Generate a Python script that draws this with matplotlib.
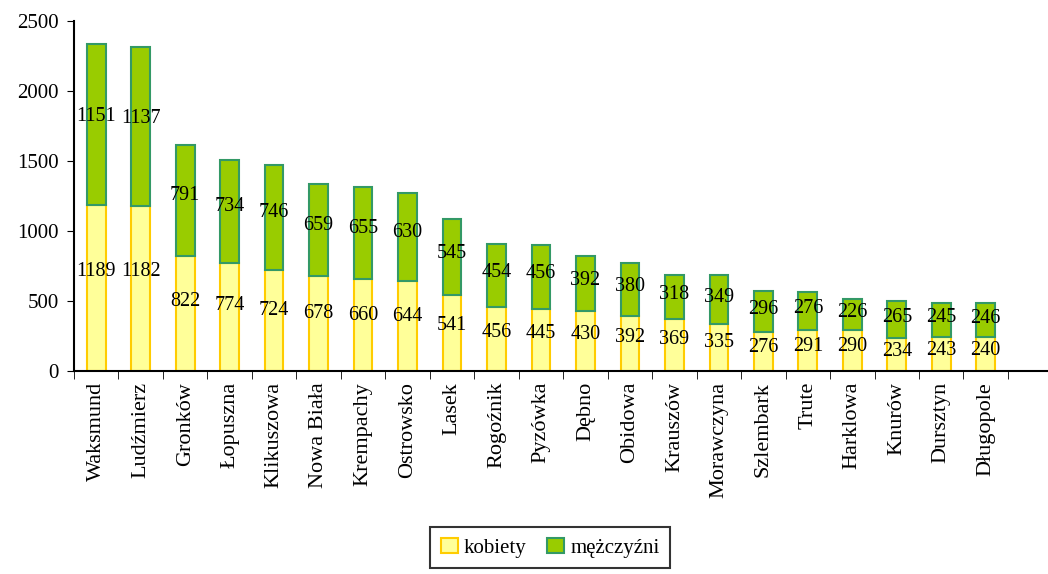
import numpy as np
import matplotlib.pyplot as plt
from matplotlib.ticker import FixedLocator

plt.rcParams['font.family'] = ['Liberation Serif', 'DejaVu Serif']

# wsie
villages = ['Waksmund', 'Ludźmierz', 'Gronków', 'Łopuszna', 'Klikuszowa',
            'Nowa Biała', 'Krempachy', 'Ostrowsko', 'Lasek', 'Rogoźnik',
            'Pyzówka', 'Dębno', 'Obidowa', 'Krauszów', 'Morawczyna',
            'Szlembark', 'Trute', 'Harklowa', 'Knurów', 'Dursztyn', 'Długopole']
kobiety = [1189, 1182, 822, 774, 724, 678, 660, 644, 541, 456,
           445, 430, 392, 369, 335, 276, 291, 290, 234, 243, 240]
mezczyzni = [1151, 1137, 791, 734, 746, 659, 655, 630, 545, 454,
             456, 392, 380, 318, 349, 296, 276, 226, 265, 245, 246]

k = np.array(kobiety)
m = np.array(mezczyzni)
x = np.arange(len(villages))

fig = plt.figure(figsize=(10.48, 5.74), dpi=100)
ax = fig.add_axes([0.0706, 0.354, 0.9294, 0.609])

w = 0.42
ax.bar(x, k, w, color='#FFFF99', edgecolor='#FFCC00', linewidth=1.5, label='kobiety')
ax.bar(x, m, w, bottom=k, color='#99CC00', edgecolor='#339966', linewidth=1.5,
       label='mężczyźni')

for i in range(len(x)):
    ax.text(x[i], k[i] * 0.6, str(k[i]), ha='center', va='center', fontsize=14.5)
    ax.text(x[i], k[i] + m[i] * 0.55, str(m[i]), ha='center', va='center', fontsize=14.5)

ax.set_xlim(-0.5, 21.4)
ax.set_ylim(0, 2500)
ax.set_yticks(range(0, 2501, 500))
ax.tick_params(axis='y', labelsize=15, direction='out', length=5, pad=6)

ax.set_xticks(x)
ax.set_xticklabels(villages, rotation=90, fontsize=16)
ax.tick_params(axis='x', which='major', length=0, pad=8)
ax.xaxis.set_minor_locator(FixedLocator(np.arange(-0.5, 21.6, 1)))
ax.tick_params(axis='x', which='minor', length=6, direction='out')

for s in ['left', 'bottom']:
    ax.spines[s].set_linewidth(1.5)
ax.spines['top'].set_visible(False)
ax.spines['right'].set_visible(False)

leg = fig.legend(loc='lower center', bbox_to_anchor=(0.525, -0.008), ncol=2, fontsize=15,
                 frameon=True, fancybox=False, edgecolor='black', handlelength=0.8,
                 handleheight=0.8, handletextpad=0.3, columnspacing=1.0,
                 borderpad=0.5)
leg.get_frame().set_linewidth(1.5)

fig.savefig('out.png', dpi=100)
